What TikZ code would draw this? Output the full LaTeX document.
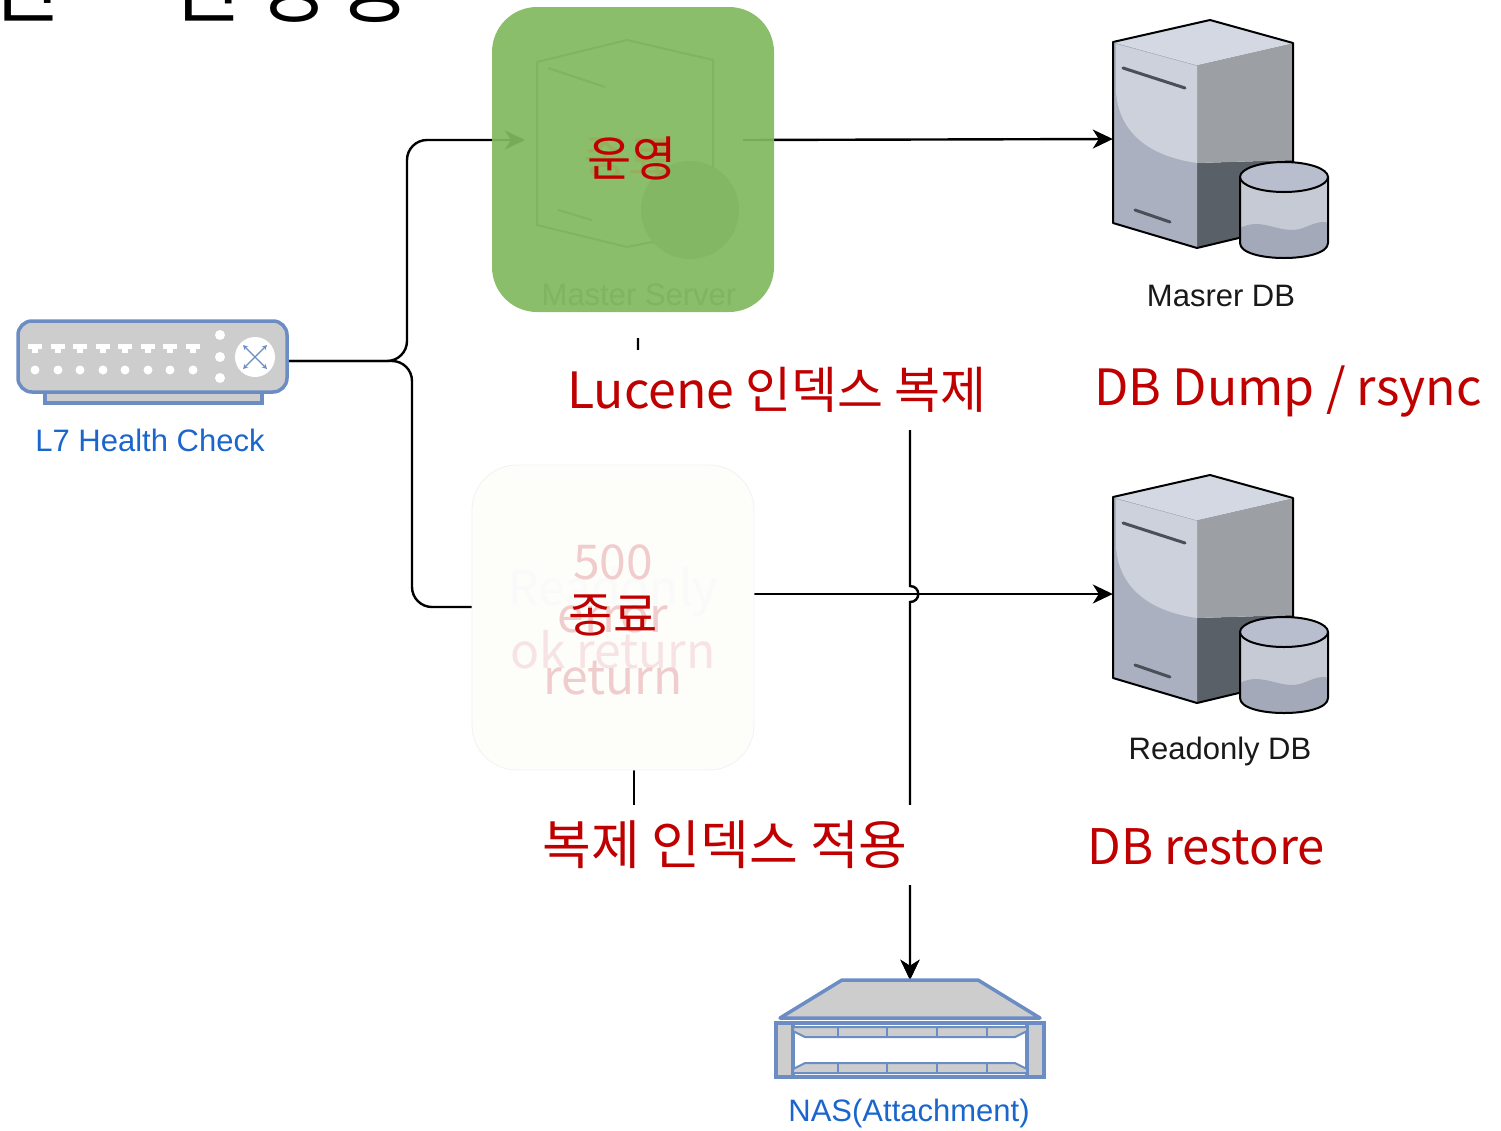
\documentclass[tikz,border=0pt]{standalone}
\usepackage{fontspec}
\setmainfont{Liberation Sans}
\newfontfamily\krfont{Noto Sans CJK KR}
\usetikzlibrary{arrows.meta}
\definecolor{redtxt}{RGB}{192,0,0}
\definecolor{boxgreen}{RGB}{130,185,95}
\definecolor{ghostgreen}{RGB}{128,180,98}
\definecolor{ghostcirc}{RGB}{131,183,100}
\definecolor{iconblue}{RGB}{108,140,196}
\definecolor{labelblue}{RGB}{26,102,204}
\definecolor{swgray}{RGB}{205,205,205}
\definecolor{srvtop}{RGB}{212,216,226}
\definecolor{srvleftup}{RGB}{204,209,220}
\definecolor{srvleftlow}{RGB}{170,176,192}
\definecolor{srvmid}{RGB}{156,160,164}
\definecolor{srvdark}{RGB}{90,96,104}
\definecolor{slotgray}{RGB}{74,80,88}
\definecolor{cyltop}{RGB}{185,190,206}
\definecolor{cylbody}{RGB}{198,202,212}
\definecolor{cylwave}{RGB}{163,169,184}
\definecolor{whitebox}{RGB}{253,253,250}
\definecolor{pinkghost}{RGB}{241,204,204}
\definecolor{olive}{RGB}{165,160,75}
\tikzset{
  conn/.style={draw=black, line width=2.4pt},
  arrowend/.style={-{Stealth[length=20pt,width=19pt,inset=6pt]}},
  redlbl/.style={font=\krfont\fontsize{50}{56}\selectfont, text=redtxt, fill=white, inner xsep=12pt, minimum height=80pt},
  iconlbl/.style={font=\fontsize{31}{36}\selectfont, inner sep=0pt},
  swline/.style={draw=iconblue, line width=3.5pt},
  slot/.style={draw=slotgray, line width=3pt, line cap=round},
  ghosttxt/.style={font=\krfont\fontsize{48}{54}\selectfont, inner sep=0pt},
  placeholder/.style={draw=none, inner sep=0pt},
  dbserver/.pic={
    \fill[srvdark] (84,143) -- (180,140) -- (180,205) -- (84,228) -- cycle;
    \fill[srvmid] (84,45) -- (180,23) -- (180,140) -- (84,143) -- cycle;
    \fill[srvleftlow] (0,22) -- (84,45) -- (84,228) -- (0,203) -- cycle;
    \fill[srvleftup] (3,24) -- (84,46) -- (84,143) .. controls (35,136) and (6,112) .. (3,72) -- cycle;
    \fill[srvtop] (0,22) -- (97,0) -- (180,23) -- (84,45) -- cycle;
    \draw[line width=2pt, line join=round] (0,22) -- (97,0) -- (180,23) -- (180,205) -- (84,228) -- (0,203) -- cycle;
    \draw[slot] (10,48) -- (72,68);
    \draw[slot] (22,190) -- (57,202);
    \fill[cylbody] (127,157) -- (127,223) .. controls (127,243) and (215,243) .. (215,223) -- (215,157) -- cycle;
    \fill[cylwave] (127,208) .. controls (150,196) and (168,216) .. (190,208) .. controls (200,204) and (209,200) .. (215,203) -- (215,223) .. controls (215,243) and (127,243) .. (127,223) -- cycle;
    \draw[line width=2pt] (127,157) -- (127,223) .. controls (127,243) and (215,243) .. (215,223) -- (215,157);
    \draw[line width=2pt, fill=cyltop] (171,157) ellipse [x radius=44pt, y radius=15pt];
  }
}
\begin{document}
\begin{tikzpicture}[x=1pt,y=-1pt]
\useasboundingbox (0,0) rectangle (1501,1130);
\clip (0,0) rectangle (1501,1130);

% cut-off heading
\node[anchor=base west, inner sep=0pt, font=\krfont\fontsize{80}{84}\selectfont] (heading) at (-13,16) {전\makebox[108pt]{–}변\kern12pt 경\kern10pt 중};

% named places
\node[placeholder, minimum width=270pt, minimum height=82pt] (l7) at (153,361) {};
\node[placeholder, minimum width=215pt, minimum height=238pt] (mdb) at (1220.5,139) {};
\node[placeholder, minimum width=215pt, minimum height=238pt] (rdb) at (1220.5,594) {};
\node[placeholder, minimum width=268pt, minimum height=97pt] (nas) at (910,1028.5) {};
\coordinate (msin) at (525,140);
\coordinate (msout) at (743,140);
\coordinate (msbot) at (638,338);
\coordinate (rsin) at (505,607);
\coordinate (rsout) at (720,594);
\coordinate (rsbot) at (634,770);

% connectors
\draw[conn, arrowend, rounded corners=20pt] (l7.east) -- (407,361) -- (407,140) -- (msin);
\draw[conn, arrowend, rounded corners=20pt] (l7.east) -- (412,361) -- (412,607) -- (rsin);
\draw[conn, arrowend] (msout) -- (mdb.west);
\draw[conn, arrowend] (rsout) -- (rdb.west);
\draw[conn, arrowend] (msbot) -- (638,390) -- (910,390) -- (910,586) .. controls (921,586) and (921,602) .. (910,602) -- (nas.north);
\draw[conn, arrowend] (rsbot) -- (634,845) -- (910,845) -- (nas.north);

% green box (Master Server)
\fill[boxgreen, fill opacity=0.93, rounded corners=45pt] (492,7) rectangle (774,312);
\draw[ghostgreen, line width=2pt, line join=round] (537,62) -- (627,40) -- (713,60) -- (713,230) -- (627,247) -- (537,225) -- cycle;
\draw[ghostgreen, line width=2pt] (548,68) -- (605,87);
\draw[ghostgreen, line width=2pt] (558,210) -- (592,220);
\fill[ghostcirc] (690,210) circle (49pt);
\node[iconlbl, text=ghostgreen] (mslbl) at (639,295) {Master Server};
\node[ghosttxt, text=olive, opacity=0.5] (msghost) at (628,158) {종료};
\node[ghosttxt, text=redtxt] (mstxt) at (632,158) {운영};

% white box (Readonly Server)
\draw[draw=black!5, fill=whitebox, line width=0.8pt, rounded corners=45pt] (472,465) rectangle (754,770);
\node[ghosttxt, text=black!2] (rsghost1) at (613,592) {Readonly};
\node[ghosttxt, text=pinkghost] (rsghost2) at (613,562) {500};
\node[ghosttxt, text=pinkghost!55!white] (rsghost3) at (613,650) {ok return};
\node[ghosttxt, text=pinkghost] (rsghost4) at (613,619) {error};
\node[ghosttxt, text=pinkghost] (rsghost5) at (613,678) {return};
\node[ghosttxt, text=redtxt] (rstxt) at (613,615) {종료};

% red labels
\node[redlbl] (lucene) at (777,390) {Lucene 인덱스 복제};
\node[redlbl] (dump) at (1288,391) {DB Dump / rsync};
\node[redlbl, font=\krfont\fontsize{53}{58}\selectfont] (apply) at (725,845) {복제 인덱스 적용};
\node[redlbl, font=\krfont\fontsize{49}{56}\selectfont] (restore) at (1206,847) {DB restore};

% DB servers
\pic at (1113,20) {dbserver};
\pic at (1113,475) {dbserver};
\node[iconlbl, text=black!90] (mdblbl) at (1221,296) {Masrer DB};
\node[iconlbl, text=black!90] (rdblbl) at (1220,751) {Readonly DB};

% L7 switch
\draw[swline, fill=swgray] (45,388) rectangle (262,403);
\draw[swline, fill=swgray, rounded corners=14pt] (18,321) rectangle (287,392);
\foreach \px in {35,58,80,103,125,148,170,193} {
  \fill[white] (\px-7,344) rectangle (\px+7,349);
  \fill[white] (\px-3,349) rectangle (\px+3,353);
  \fill[white] (\px,370) circle (4.5pt);
}
\foreach \py in {335,357,378} { \fill[white] (220,\py) circle (5pt); }
\fill[white] (255,357) circle (20pt);
\draw[iconblue, line width=1.3pt, {Stealth[length=5pt,width=5pt]}-{Stealth[length=5pt,width=5pt]}] (243,345) -- (267,369);
\draw[iconblue, line width=1.3pt, {Stealth[length=5pt,width=5pt]}-{Stealth[length=5pt,width=5pt]}] (243,369) -- (267,345);
\node[iconlbl, text=labelblue] (l7lbl) at (150,440) {L7 Health Check};

% NAS
\draw[swline, fill=swgray, line join=round] (842,980) -- (978,980) -- (1040,1018) -- (780,1018) -- cycle;
\draw[swline, fill=white] (776,1023) rectangle (1044,1077);
\draw[swline, fill=swgray] (776,1023) rectangle (793,1077);
\draw[swline, fill=swgray] (1027,1023) rectangle (1044,1077);
\draw[draw=iconblue, line width=2pt, fill=swgray, line join=round] (793,1027) -- (1027,1027) -- (1027,1031) -- (1015,1037) -- (805,1037) -- (793,1031) -- cycle;
\draw[draw=iconblue, line width=2pt, fill=swgray, line join=round] (793,1073) -- (1027,1073) -- (1027,1069) -- (1015,1063) -- (805,1063) -- (793,1069) -- cycle;
\foreach \sx in {838,887,937,987} {
  \draw[iconblue, line width=2pt] (\sx,1027) -- (\sx,1037);
  \draw[iconblue, line width=2pt] (\sx,1063) -- (\sx,1073);
}
\node[iconlbl, text=labelblue] (naslbl) at (909,1113) {NAS(Attachment)};
\end{tikzpicture}
\end{document}
